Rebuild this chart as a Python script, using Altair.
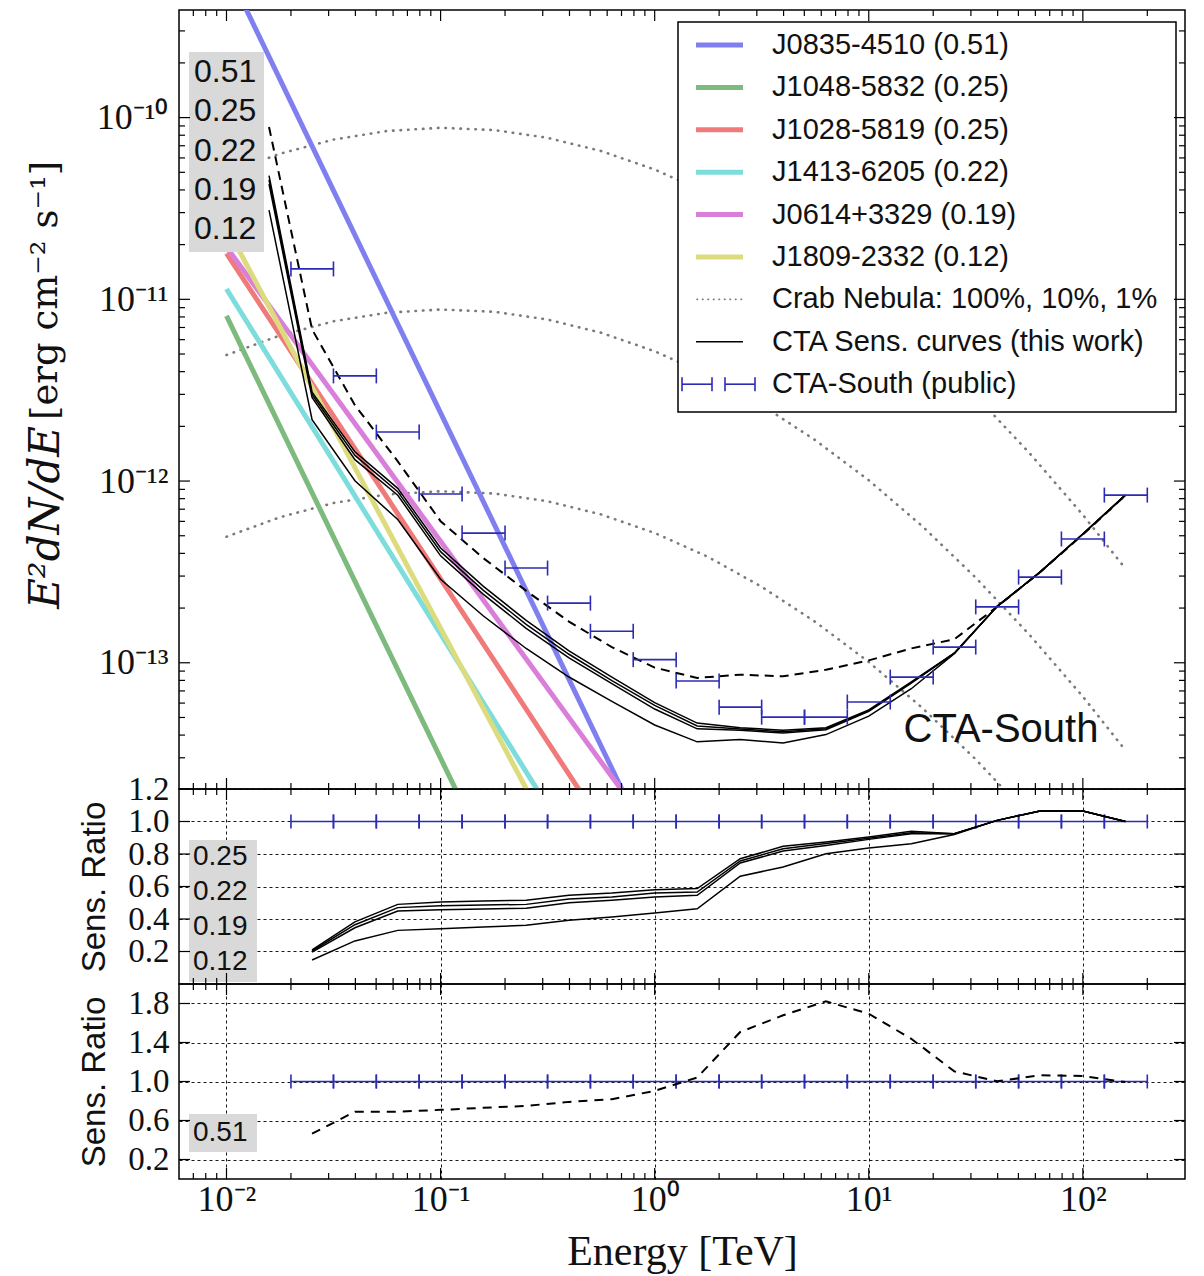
import altair as alt
import pandas as pd

# ---------------- public CTA-South sensitivity (binned, TeV) ----------------
bin_lo = [0.02, 0.0316, 0.0501, 0.0794, 0.126, 0.2, 0.316, 0.501, 0.794, 1.26,
          2.0, 3.16, 5.01, 7.94, 12.6, 20.0, 31.6, 50.1, 79.4, 126.0]
bin_hi = [0.0316, 0.0501, 0.0794, 0.126, 0.2, 0.316, 0.501, 0.794, 1.26, 2.0,
          3.16, 5.01, 7.94, 12.6, 20.0, 31.6, 50.1, 79.4, 126.0, 200.0]
bin_mid = [0.0251, 0.0398, 0.0631, 0.1, 0.158, 0.251, 0.398, 0.631, 1.0, 1.58,
           2.51, 3.98, 6.31, 10.0, 15.8, 25.1, 39.8, 63.1, 100.0, 158.0]
public_sens = [1.47e-11, 3.79e-12, 1.86e-12, 8.48e-13, 5.17e-13, 3.32e-13, 2.13e-13, 1.49e-13, 1.04e-13, 7.93e-14,
               5.70e-14, 5.02e-14, 5.02e-14, 6.08e-14, 8.34e-14, 1.22e-13, 2.03e-13, 2.96e-13, 4.80e-13, 8.37e-13]
public_ratio = [1.0] * 20

# ---------------- this work: sensitivity ratio to public curve ----------------
ratio_025 = [0.210, 0.382, 0.490, 0.505, 0.511, 0.515, 0.546, 0.560, 0.580, 0.587,
             0.771, 0.847, 0.874, 0.905, 0.940, 0.925, 1.007, 1.065, 1.065, 1.000]
ratio_022 = [0.203, 0.365, 0.470, 0.482, 0.486, 0.490, 0.523, 0.535, 0.560, 0.566,
             0.757, 0.832, 0.864, 0.897, 0.931, 0.925, 1.007, 1.065, 1.065, 1.000]
ratio_019 = [0.196, 0.346, 0.449, 0.457, 0.462, 0.466, 0.500, 0.515, 0.535, 0.546,
             0.745, 0.818, 0.853, 0.890, 0.925, 0.925, 1.007, 1.065, 1.065, 1.000]
ratio_012 = [0.148, 0.265, 0.330, 0.340, 0.351, 0.361, 0.392, 0.412, 0.437, 0.463,
             0.663, 0.720, 0.802, 0.837, 0.863, 0.920, 1.007, 1.065, 1.065, 1.000]
ratio_051 = [0.465, 0.690, 0.690, 0.709, 0.730, 0.750, 0.791, 0.818, 0.904, 1.041,
             1.508, 1.679, 1.822, 1.695, 1.438, 1.104, 1.002, 1.064, 1.056, 0.995]

# first (lowest-energy) point of the "this work" curves
first_energy = 0.0158
first_flux_025 = 4.8e-11
first_flux_022 = 4.55e-11
first_flux_019 = 4.3e-11
first_flux_012 = 3.1e-11
first_flux_051 = 8.87e-11

# ---------------- Crab Nebula log-parabola (E^2 dN/dE) ----------------
crab_energy = [0.01, 0.0178, 0.0316, 0.0562, 0.1, 0.178, 0.316, 0.562, 1.0,
               1.78, 3.16, 5.62, 10.0, 17.8, 31.6, 56.2, 100.0, 158.0]
crab_100 = [4.94e-11, 6.33e-11, 7.57e-11, 8.44e-11, 8.79e-11, 8.54e-11, 7.74e-11, 6.55e-11, 5.18e-11,
            3.82e-11, 2.62e-11, 1.68e-11, 1.01e-11, 5.64e-12, 2.94e-12, 1.43e-12, 6.52e-13, 3.30e-13]
crab_10 = [4.94e-12, 6.33e-12, 7.57e-12, 8.44e-12, 8.79e-12, 8.54e-12, 7.74e-12, 6.55e-12, 5.18e-12,
           3.82e-12, 2.62e-12, 1.68e-12, 1.01e-12, 5.64e-13, 2.94e-13, 1.43e-13, 6.52e-14, 3.30e-14]
crab_1 = [4.94e-13, 6.33e-13, 7.57e-13, 8.44e-13, 8.79e-13, 8.54e-13, 7.74e-13, 6.55e-13, 5.18e-13,
          3.82e-13, 2.62e-13, 1.68e-13, 1.01e-13, 5.64e-14, 2.94e-14, 1.43e-14, 6.52e-15, 3.30e-15]

# ---------------- pulsar power laws ----------------
pulsar_names = ['J0835-4510 (0.51)', 'J1048-5832 (0.25)', 'J1028-5819 (0.25)',
                'J1413-6205 (0.22)', 'J0614+3329 (0.19)', 'J1809-2332 (0.12)']
pulsar_colors = ['#7f7ff0', '#7dba7d', '#f07a7a', '#7ddcdc', '#d97ed9', '#dcdc7e']
pulsar_energy = [0.01, 1.0]
pulsar_flux_start = [6.62e-10, 8.1e-12, 1.79e-11, 1.14e-11, 1.94e-11, 2.50e-11]
pulsar_flux_end = [8.5e-15, 1.1e-16, 4.67e-15, 1.82e-15, 1.12e-14, 9.6e-16]

# ---------------- labels ----------------
box_top_labels = ['0.51', '0.25', '0.22', '0.19', '0.12']
box_mid_labels = ['0.25', '0.22', '0.19', '0.12']
box_bot_labels = ['0.51']
legend_extra = ['Crab Nebula: 100%, 10%, 1%', 'CTA Sens. curves (this work)', 'CTA-South (public)']
x_major = [0.01, 0.1, 1.0, 10.0, 100.0]
x_tick_labels = ['10⁻²', '10⁻¹', '10⁰', '10¹', '10²']
x_minor = [0.007, 0.008, 0.009] + [k * 10.0 ** d for d in (-2, -1, 0, 1) for k in range(2, 10)] + [200.0]
y_top_major = [1e-13, 1e-12, 1e-11, 1e-10]
y_top_labels = ['10⁻¹³', '10⁻¹²', '10⁻¹¹', '10⁻¹⁰']
y_top_minor = [k * 1e-14 for k in range(3, 10)] + [k * 10.0 ** d for d in (-13, -12, -11) for k in range(2, 10)] + [2e-10, 3e-10]
y_mid_major = [0.2, 0.4, 0.6, 0.8, 1.0, 1.2]
y_bot_major = [0.2, 0.6, 1.0, 1.4, 1.8]

# ---------------- tables ----------------
curve_names = ['0.25', '0.22', '0.19', '0.12']
ratio_sets = [ratio_025, ratio_022, ratio_019, ratio_012]
first_flux = [first_flux_025, first_flux_022, first_flux_019, first_flux_012]
sens_rows, ratio_rows = [], []
for nm, rr, f0 in zip(curve_names, ratio_sets, first_flux):
    sens_rows.append({'curve': nm, 'E': first_energy, 'F': f0})
    for e, r, p in zip(bin_mid, rr, public_sens):
        sens_rows.append({'curve': nm, 'E': e, 'F': r * p})
        ratio_rows.append({'curve': nm, 'E': e, 'R': r})
sens_df = pd.DataFrame(sens_rows)
ratio_df = pd.DataFrame(ratio_rows)
sens51_df = pd.DataFrame({'E': [first_energy] + bin_mid,
                          'F': [first_flux_051] + [r * p for r, p in zip(ratio_051, public_sens)]})
ratio51_df = pd.DataFrame({'E': bin_mid, 'R': ratio_051})

crab_df = pd.concat([pd.DataFrame({'E': crab_energy, 'F': v, 'level': lv})
                     for v, lv in ((crab_100, '100'), (crab_10, '10'), (crab_1, '1'))])
puls_df = pd.concat([pd.DataFrame({'E': pulsar_energy, 'F': [a, b], 'name': n})
                     for n, a, b in zip(pulsar_names, pulsar_flux_start, pulsar_flux_end)])
pub_df = pd.DataFrame({'Elo': bin_lo, 'Ehi': bin_hi, 'F': public_sens})
pub_edges = pd.DataFrame({'E': bin_lo + bin_hi, 'F': public_sens + public_sens})
pubr_df = pd.DataFrame({'Elo': bin_lo, 'Ehi': bin_hi, 'R': public_ratio})
pubr_edges = pd.DataFrame({'E': bin_lo + bin_hi, 'R': public_ratio + public_ratio})
dummy = pd.DataFrame({'k': [0]})

# ---------------- style ----------------
W = 1006
H_TOP = 779
H_MID = 195
H_BOT = 195
SERIF = 'Liberation Serif'
SANS = 'Liberation Sans'
BLUE = '#2b2bb5'
INK = '#111111'
GRID = dict(grid=True, gridDash=[3, 3], gridColor='black', gridWidth=1, gridOpacity=0.9)

xs = alt.Scale(type='log', domain=[0.006, 300], nice=False)
ys_top = alt.Scale(type='log', domain=[2.02e-14, 3.91e-10], nice=False)
ys_mid = alt.Scale(domain=[0.0, 1.2], nice=False, zero=False)
ys_bot = alt.Scale(domain=[0.0, 2.0], nice=False, zero=False)


def arr_expr(labels, offset):
    return '[' + ','.join("'%s'" % s for s in labels) + '][round(log(datum.value)/LN10)+%d]' % offset


top_x_axis = None
top_y_axis = alt.Axis(values=y_top_major, labelExpr=arr_expr(y_top_labels, 13), ticks=False, domain=False,
                      grid=False, title=None, labelFont=SERIF, labelFontSize=36, labelPadding=11,
                      labelColor=INK, labelOverlap=False)
mid_x_axis = alt.Axis(values=x_major, labels=False, ticks=False, domain=False, title=None, **GRID)
ratio_title = dict(titleFont=SANS, titleFontSize=33, titleFontWeight='normal', titleColor=INK,
                   titleX=-85, titleAngle=270, titleAlign='center', titleBaseline='middle')
mid_y_axis = alt.Axis(values=y_mid_major, format='.1f', ticks=False, domain=False, labelFont=SERIF,
                      labelFontSize=33, labelPadding=10, labelColor=INK, labelOverlap=False,
                      title='Sens. Ratio', titleY=H_MID / 2, **ratio_title, **GRID)
bot_x_axis = alt.Axis(values=x_major, labelExpr=arr_expr(x_tick_labels, 2), ticks=False, domain=False,
                      labelFont=SERIF, labelFontSize=36, labelPadding=3, labelColor=INK, labelFlush=False,
                      labelOverlap=False,
                      title='Energy [TeV]', titleFont=SERIF, titleFontSize=42, titleFontWeight='normal',
                      titleColor=INK, titleBaseline='alphabetic', titleY=85, titleX=W / 2, **GRID)
bot_y_axis = alt.Axis(values=y_bot_major, format='.1f', ticks=False, domain=False, labelFont=SERIF,
                      labelFontSize=33, labelPadding=10, labelColor=INK, labelOverlap=False,
                      title='Sens. Ratio', titleY=H_BOT / 2, **ratio_title, **GRID)


def frame_ticks(H, xaxis, yfield, yscale, yaxis, ymaj, ymin):
    out = []
    for vals, L in ((x_major, 11), (x_minor, 6)):
        base = alt.Chart(pd.DataFrame({'E': vals})).mark_rule(color='black', strokeWidth=1.2)
        xe = alt.X('E:Q', scale=xs, axis=xaxis)
        out.append(base.encode(x=xe, y=alt.value(0), y2=alt.value(L)))
        out.append(base.encode(x=xe, y=alt.value(H), y2=alt.value(H - L)))
    for vals, L in ((ymaj, 11), (ymin, 6)):
        if not vals:
            continue
        base = alt.Chart(pd.DataFrame({yfield: vals})).mark_rule(color='black', strokeWidth=1.2)
        ye = alt.Y('%s:Q' % yfield, scale=yscale, axis=yaxis)
        out.append(base.encode(y=ye, x=alt.value(0), x2=alt.value(L)))
        out.append(base.encode(y=ye, x=alt.value(W), x2=alt.value(W - L)))
    return out


def text_at(txt, x, y, size, font=SANS, align='left', angle=0, style='normal'):
    return alt.Chart(dummy).mark_text(align=align, baseline='middle', font=font, fontSize=size,
                                      color=INK, angle=angle, fontStyle=style).encode(
        x=alt.value(x), y=alt.value(y), text=alt.value(txt))


def rect_at(x1, x2, y1, y2, fill, stroke=None):
    kw = dict(fill=fill)
    if stroke:
        kw.update(stroke=stroke, strokeWidth=1.5)
    return alt.Chart(dummy).mark_rect(**kw).encode(
        x=alt.value(x1), x2=alt.value(x2), y=alt.value(y1), y2=alt.value(y2))


def seg_at(x1, x2, y, color, width, dash=None):
    kw = dict(color=color, strokeWidth=width)
    if dash:
        kw.update(strokeDash=dash, strokeCap='round')
    return alt.Chart(dummy).mark_rule(**kw).encode(x=alt.value(x1), x2=alt.value(x2), y=alt.value(y))


def vseg_at(x, y1, y2, color, width):
    return alt.Chart(dummy).mark_rule(color=color, strokeWidth=width).encode(
        x=alt.value(x), y=alt.value(y1), y2=alt.value(y2))


# ---------------- top panel ----------------
XT = alt.X('E:Q', scale=xs, axis=top_x_axis)
YT = alt.Y('F:Q', scale=ys_top, axis=top_y_axis)

top_layers = [
    alt.Chart(crab_df).mark_line(color='#7a7a7a', strokeWidth=2.6, strokeDash=[0.5, 7], strokeCap='round',
                                 clip=True).encode(x=XT, y=YT, detail='level:N'),
    alt.Chart(puls_df).mark_line(strokeWidth=5, clip=True).encode(
        x=XT, y=YT, color=alt.Color('name:N', scale=alt.Scale(domain=pulsar_names, range=pulsar_colors),
                                    legend=None)),
    alt.Chart(sens_df).mark_line(color='black', strokeWidth=1.5, clip=True).encode(x=XT, y=YT, detail='curve:N'),
    alt.Chart(sens51_df).mark_line(color='black', strokeWidth=2, strokeDash=[9, 6], clip=True).encode(x=XT, y=YT),
    alt.Chart(pub_df).mark_rule(color=BLUE, strokeWidth=1.6).encode(
        x=alt.X('Elo:Q', scale=xs, axis=top_x_axis), x2='Ehi:Q', y=YT),
    alt.Chart(pub_edges).mark_tick(orient='vertical', size=15, thickness=1.6, color=BLUE, opacity=1).encode(
        x=XT, y=YT),
    rect_at(10, 85, 42, 242, '#d9d9d9'),
]
for i, lab in enumerate(box_top_labels):
    top_layers.append(text_at(lab, 15, 62 + 39.3 * i, 32))
top_layers.append(text_at('CTA-South', 822, 720, 40, align='center'))
# axis title (math part italic)
top_layers.append(text_at('E²dN/dE', -133, 416, 42, font='DejaVu Serif', align='right', angle=270,
                          style='italic'))
top_layers.append(text_at('[erg cm⁻² s⁻¹]', -133, 410, 37, font='DejaVu Serif', align='left', angle=270))

# legend
top_layers.append(rect_at(499, 997, 12, 402, 'white', stroke='black'))
for i, (nm, col) in enumerate(zip(pulsar_names, pulsar_colors)):
    yy = 35 + 42.4 * i
    top_layers.append(seg_at(517, 564, yy, col, 5))
    top_layers.append(text_at(nm, 593, yy, 29))
y6 = 35 + 42.4 * 6
top_layers.append(seg_at(518, 564, y6, '#7a7a7a', 1.6, dash=[0.5, 5]))
top_layers.append(text_at(legend_extra[0], 593, y6, 29))
y7 = 35 + 42.4 * 7
top_layers.append(seg_at(517, 564, y7, 'black', 1.4))
top_layers.append(text_at(legend_extra[1], 593, y7, 29))
y8 = 35 + 42.4 * 8
for a, b in ((503, 533), (546, 576)):
    top_layers.append(seg_at(a, b, y8, BLUE, 1.6))
    top_layers.append(vseg_at(a, y8 - 7, y8 + 7, BLUE, 1.6))
    top_layers.append(vseg_at(b, y8 - 7, y8 + 7, BLUE, 1.6))
top_layers.append(text_at(legend_extra[2], 593, y8, 29))
top_layers += frame_ticks(H_TOP, top_x_axis, 'F', ys_top, top_y_axis, y_top_major, y_top_minor)

top = alt.layer(*top_layers).properties(width=W, height=H_TOP)

# ---------------- middle panel ----------------
XM = alt.X('E:Q', scale=xs, axis=mid_x_axis)
YM = alt.Y('R:Q', scale=ys_mid, axis=mid_y_axis)
mid_layers = [
    alt.Chart(pubr_df).mark_rule(color=BLUE, strokeWidth=1.6).encode(
        x=alt.X('Elo:Q', scale=xs, axis=mid_x_axis), x2='Ehi:Q', y=YM),
    alt.Chart(pubr_edges).mark_tick(orient='vertical', size=14, thickness=1.6, color=BLUE, opacity=1).encode(
        x=XM, y=YM),
    alt.Chart(ratio_df).mark_line(color='black', strokeWidth=1.5, clip=True).encode(x=XM, y=YM, detail='curve:N'),
    rect_at(10, 78, 51, 193, '#d9d9d9'),
]
for i, lab in enumerate(box_mid_labels):
    mid_layers.append(text_at(lab, 14, 68 + 35 * i, 28))
mid_layers += frame_ticks(H_MID, mid_x_axis, 'R', ys_mid, mid_y_axis, y_mid_major, [])
mid = alt.layer(*mid_layers).properties(width=W, height=H_MID)

# ---------------- bottom panel ----------------
XB = alt.X('E:Q', scale=xs, axis=bot_x_axis)
YB = alt.Y('R:Q', scale=ys_bot, axis=bot_y_axis)
bot_layers = [
    alt.Chart(pubr_df).mark_rule(color=BLUE, strokeWidth=1.6).encode(
        x=alt.X('Elo:Q', scale=xs, axis=bot_x_axis), x2='Ehi:Q', y=YB),
    alt.Chart(pubr_edges).mark_tick(orient='vertical', size=14, thickness=1.6, color=BLUE, opacity=1).encode(
        x=XB, y=YB),
    alt.Chart(ratio51_df).mark_line(color='black', strokeWidth=2, strokeDash=[9, 7], clip=True).encode(x=XB, y=YB),
    rect_at(10, 78, 130, 168, '#d9d9d9'),
]
for i, lab in enumerate(box_bot_labels):
    bot_layers.append(text_at(lab, 14, 149, 28))
bot_layers += frame_ticks(H_BOT, bot_x_axis, 'R', ys_bot, bot_y_axis, y_bot_major, [])
bot = alt.layer(*bot_layers).properties(width=W, height=H_BOT)

chart = alt.vconcat(top, mid, bot, spacing=0, bounds='flush').properties(
    padding={'left': 16, 'top': 0, 'right': 8, 'bottom': 4}, background='white'
).configure_view(stroke='black', strokeWidth=1.5)

chart.save('out.html', embed_options={'renderer': 'svg', 'actions': False})
